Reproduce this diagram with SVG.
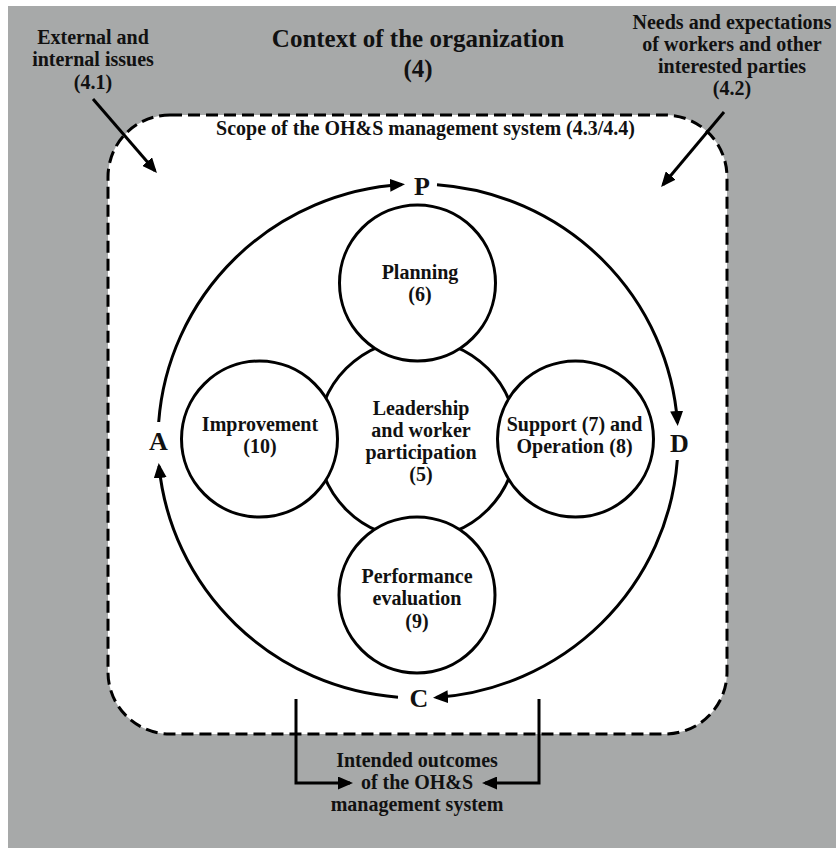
<svg xmlns="http://www.w3.org/2000/svg" width="836" height="848" viewBox="0 0 836 848">
<style>
  text { font-family: "Liberation Serif", "Times New Roman", serif; font-weight: bold; fill: #111; text-anchor: middle; }
  .t20 { font-size: 20px; }
  .title { font-size: 25px; }
  .big { font-size: 26px; }
  .conn { fill: none; stroke: #000; stroke-width: 3; }
  .node { fill: #fff; stroke: #000; stroke-width: 3; }
</style>
<defs>
  <marker id="ah" markerUnits="userSpaceOnUse" viewBox="0 0 15 13" markerWidth="15" markerHeight="13" refX="12" refY="6.5" orient="auto">
    <path d="M0,0 L15,6.5 L0,13 z" fill="#000"/>
  </marker>
</defs>
<rect x="0" y="0" width="836" height="848" fill="#fff"/>
<rect x="8" y="6" width="828" height="842" fill="#a7a9a9"/>
<g id="scope">
  <rect x="108" y="115" width="619" height="619" rx="62" ry="62" fill="#fff" stroke="#000" stroke-width="3" stroke-dasharray="12 6"/>
  <text class="t20" x="425.5" y="135">Scope of the OH&amp;S management system (4.3/4.4)</text>
</g>
<g id="title">
  <text class="title" x="418" y="47">Context of the organization</text>
  <text class="title" x="418" y="77">(4)</text>
</g>
<g id="external-issues">
  <text class="t20" x="93" y="44">External and</text>
  <text class="t20" x="93" y="66">internal issues</text>
  <text class="t20" x="93" y="89">(4.1)</text>
</g>
<g id="needs-expectations">
  <text class="t20" x="732" y="29">Needs and expectations</text>
  <text class="t20" x="732" y="51">of workers and other</text>
  <text class="t20" x="732" y="73">interested parties</text>
  <text class="t20" x="732" y="95">(4.2)</text>
</g>
<g id="intended-outcomes">
  <text class="t20" x="417" y="767">Intended outcomes</text>
  <text class="t20" x="417" y="789">of the OH&amp;S</text>
  <text class="t20" x="417" y="811">management system</text>
</g>
<g id="connectors">
  <path class="conn" d="M93,99 L155,170.7" marker-end="url(#ah)"/>
  <path class="conn" d="M724,112 L663,184.7" marker-end="url(#ah)"/>
  <path class="conn" d="M296,699 V783 H350" marker-end="url(#ah)"/>
  <path class="conn" d="M539,699 V783 H485" marker-end="url(#ah)"/>
  <path class="conn" d="M158.7,422 A260,257 0 0 1 402,184.5" marker-end="url(#ah)"/>
  <path class="conn" d="M437,184.7 A260,257 0 0 1 677.5,423" marker-end="url(#ah)"/>
  <path class="conn" d="M677.3,460 A260,257 0 0 1 436,697.5" marker-end="url(#ah)"/>
  <path class="conn" d="M398,697.2 A260,257 0 0 1 159,466" marker-end="url(#ah)"/>
</g>
<g id="pdca-labels">
  <text class="big" x="422" y="195">P</text>
  <text class="big" x="679.5" y="452">D</text>
  <text class="big" x="419" y="707">C</text>
  <text class="big" x="158.5" y="450">A</text>
</g>
<g id="leadership">
  <circle class="node" cx="417" cy="439" r="100"/>
  <text class="t20" x="421" y="415">Leadership</text>
  <text class="t20" x="421" y="437">and worker</text>
  <text class="t20" x="421" y="459">participation</text>
  <text class="t20" x="421" y="481">(5)</text>
</g>
<g id="planning">
  <circle class="node" cx="417.5" cy="283" r="78"/>
  <text class="t20" x="420" y="279">Planning</text>
  <text class="t20" x="420" y="301">(6)</text>
</g>
<g id="support-operation">
  <circle class="node" cx="575.5" cy="439" r="78"/>
  <text class="t20" x="574.5" y="431">Support (7) and</text>
  <text class="t20" x="574.5" y="453">Operation (8)</text>
</g>
<g id="performance-evaluation">
  <circle class="node" cx="417" cy="595" r="78"/>
  <text class="t20" x="417" y="583">Performance</text>
  <text class="t20" x="417" y="605">evaluation</text>
  <text class="t20" x="417" y="628">(9)</text>
</g>
<g id="improvement">
  <circle class="node" cx="259.5" cy="439" r="78"/>
  <text class="t20" x="260" y="431">Improvement</text>
  <text class="t20" x="260" y="453">(10)</text>
</g>
</svg>
